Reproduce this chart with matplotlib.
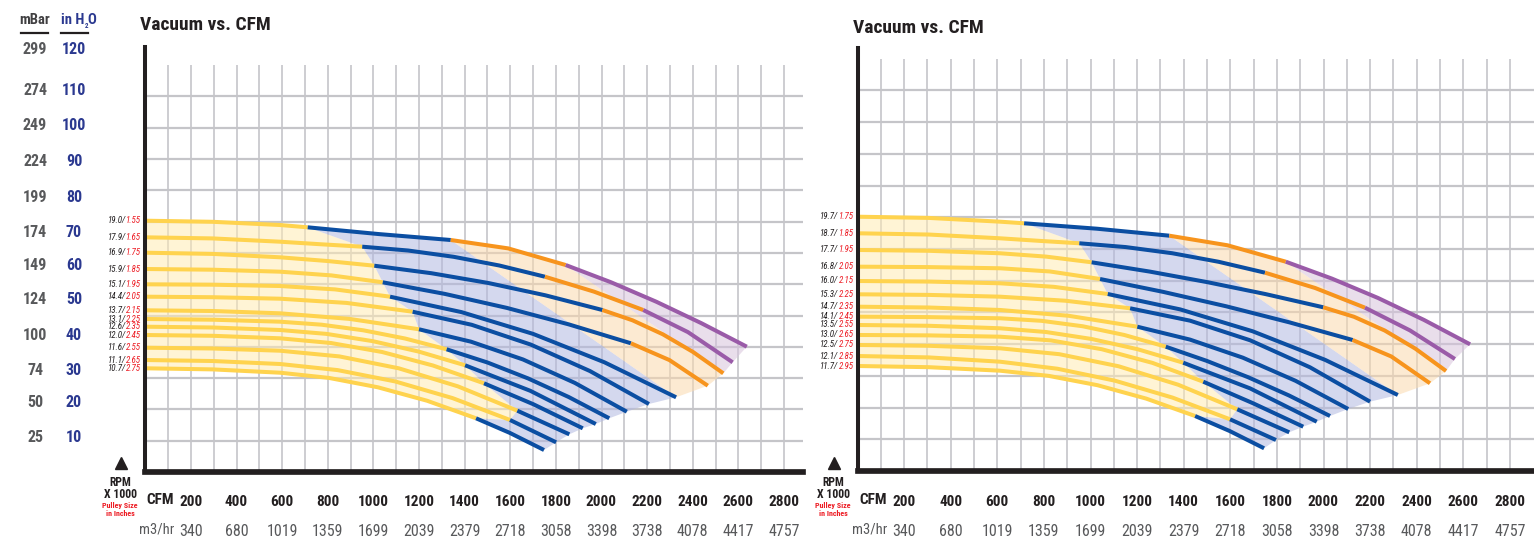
import numpy as np
import matplotlib.pyplot as plt
from matplotlib import font_manager
from matplotlib.lines import Line2D
from matplotlib.transforms import blended_transform_factory

# pick a condensed face if one is installed
_fonts = {(f.name, str(f.stretch)) for f in font_manager.fontManager.ttflist}
_names = {n for n, s in _fonts}
if 'Roboto Condensed' in _names:
    plt.rcParams['font.family'] = ['Roboto Condensed', 'DejaVu Sans']
elif 'Liberation Sans Narrow' in _names:
    plt.rcParams['font.family'] = ['Liberation Sans Narrow', 'DejaVu Sans']
elif ('DejaVu Sans', 'condensed') in _fonts or ('DejaVu Sans', '300') in _fonts:
    plt.rcParams['font.family'] = ['DejaVu Sans']
    plt.rcParams['font.stretch'] = 'condensed'
else:
    plt.rcParams['font.family'] = ['Roboto', 'DejaVu Sans']

W, H = 1534, 539

# pressure scale printed at the far left
mbar_labels = [299, 274, 249, 224, 199, 174, 149, 124, 100, 74, 50, 25]
inh2o_labels = [120, 110, 100, 90, 80, 70, 60, 50, 40, 30, 20, 10]

cfm_ticks = [200, 400, 600, 800, 1000, 1200, 1400, 1600, 1800, 2000, 2200, 2400, 2600, 2800]
m3hr_labels = [340, 680, 1019, 1359, 1699, 2039, 2379, 2718, 3058, 3398, 3738, 4078, 4417, 4757]

# ---- left chart: rpm x1000 / pulley size, curves as CFM vs in H2O
left_rpm = ['19.0', '17.9', '16.9', '15.9', '15.1', '14.4', '13.7', '13.1', '12.6', '12.0', '11.6', '11.1', '10.7']
left_pulley = ['1.55', '1.65', '1.75', '1.85', '1.95', '2.05', '2.15', '2.25', '2.35', '2.45', '2.55', '2.65', '2.75']
left_cfm = [
    [0, 295, 591, 712, 1025, 1339, 1591, 1843, 2042, 2240, 2438, 2637],
    [0, 295, 591, 771, 951, 1152, 1352, 1552, 1752, 1968, 2183, 2379, 2575],
    [0, 295, 591, 798, 1004, 1254, 1504, 1754, 2004, 2136, 2269, 2401, 2534],
    [0, 295, 591, 816, 1041, 1313, 1585, 1857, 2129, 2298, 2466],
    [0, 295, 591, 832, 1073, 1386, 1700, 2013, 2327],
    [0, 295, 591, 882, 1172, 1431, 1690, 1949, 2208],
    [0, 295, 591, 895, 1200, 1428, 1656, 1883, 2111],
    [0, 295, 591, 773, 956, 1139, 1321, 1500, 1678, 1856, 2034],
    [0, 295, 591, 794, 996, 1199, 1402, 1688, 1975],
    [0, 295, 591, 814, 1038, 1261, 1485, 1701, 1918],
    [0, 295, 591, 851, 1111, 1371, 1631, 1859],
    [0, 295, 591, 843, 1095, 1347, 1599, 1801],
    [0, 295, 591, 805, 1020, 1235, 1450, 1599, 1748],
]
left_vac = [
    [71.07, 70.76, 69.85, 69.20, 67.28, 65.61, 63.24, 58.54, 53.65, 48.16, 42.08, 35.44],
    [66.37, 66.06, 65.13, 64.40, 63.72, 62.64, 60.86, 58.40, 55.23, 50.99, 45.81, 39.56, 31.02],
    [62.02, 61.68, 60.72, 59.67, 58.34, 56.22, 53.45, 49.97, 45.81, 42.90, 38.94, 33.96, 27.91],
    [57.41, 57.21, 56.65, 55.60, 53.65, 50.37, 46.41, 41.74, 36.40, 31.65, 24.41],
    [53.08, 52.97, 52.60, 51.64, 49.58, 45.22, 39.06, 31.02, 21.13],
    [49.58, 49.43, 49.01, 47.82, 45.33, 41.63, 36.03, 28.56, 19.23],
    [45.73, 45.53, 44.88, 43.30, 40.36, 36.85, 31.82, 25.20, 17.05],
    [43.27, 43.07, 42.51, 41.66, 40.07, 37.75, 34.70, 30.97, 26.47, 21.21, 15.19],
    [41.09, 40.87, 40.16, 39.06, 37.02, 34.05, 30.18, 22.96, 13.57],
    [38.74, 38.52, 37.81, 36.48, 33.94, 30.12, 25.08, 19.17, 12.36],
    [35.15, 34.93, 34.30, 32.69, 29.33, 24.21, 17.34, 10.66],
    [31.67, 31.39, 30.54, 28.82, 25.62, 20.90, 14.71, 8.40],
    [29.33, 29.02, 28.08, 26.61, 23.95, 20.16, 15.19, 11.03, 6.22],
]
# CFM where the colour changes (yellow -> blue -> orange -> purple)
left_breaks = [[712, 1339, 1843], [951, 1752, 2183], [1004, 2004], [1041, 2129],
               [1073], [1172], [1200], [1321], [1402], [1485], [1631], [1599], [1450]]

# ---- right chart
right_rpm = ['19.7', '18.7', '17.7', '16.8', '16.0', '15.3', '14.7', '14.1', '13.5', '13.0', '12.5', '12.1', '11.7']
right_pulley = ['1.75', '1.85', '1.95', '2.05', '2.15', '2.25', '2.35', '2.45', '2.55', '2.65', '2.75', '2.85', '2.95']
right_cfm = [
    [0, 306, 612, 715, 1027, 1338, 1588, 1838, 2036, 2234, 2431, 2629],
    [0, 306, 612, 782, 952, 1151, 1351, 1550, 1749, 1964, 2178, 2371, 2564],
    [0, 306, 612, 809, 1005, 1254, 1502, 1751, 1999, 2131, 2263, 2394, 2526],
    [0, 306, 612, 826, 1041, 1312, 1583, 1854, 2125, 2291, 2457],
    [0, 306, 612, 843, 1074, 1385, 1696, 2007, 2319],
    [0, 306, 612, 891, 1170, 1427, 1685, 1942, 2200],
    [0, 306, 612, 906, 1201, 1427, 1654, 1880, 2106],
    [0, 306, 612, 789, 967, 1145, 1323, 1499, 1676, 1852, 2028],
    [0, 306, 612, 808, 1005, 1202, 1398, 1685, 1971],
    [0, 306, 612, 830, 1048, 1266, 1484, 1699, 1913],
    [0, 306, 612, 866, 1121, 1376, 1630, 1853],
    [0, 306, 612, 858, 1105, 1352, 1599, 1796],
    [0, 306, 612, 821, 1030, 1239, 1449, 1597, 1745],
]
right_vac = [
    [70.99, 70.65, 69.60, 69.15, 67.64, 65.69, 63.01, 58.43, 53.71, 48.30, 42.18, 35.37],
    [66.36, 66.01, 64.96, 64.24, 63.57, 62.51, 60.79, 58.40, 55.36, 51.09, 45.59, 39.25, 31.27],
    [61.70, 61.47, 60.78, 59.85, 58.26, 55.67, 52.71, 49.39, 45.70, 43.05, 39.21, 34.17, 27.92],
    [57.04, 56.92, 56.59, 55.70, 53.60, 50.00, 45.97, 41.49, 36.57, 31.97, 24.48],
    [53.04, 52.88, 52.40, 51.41, 49.41, 45.11, 39.00, 31.02, 21.22],
    [49.33, 49.16, 48.66, 47.54, 45.42, 41.97, 36.49, 28.95, 19.35],
    [45.87, 45.64, 44.95, 43.33, 40.28, 36.68, 31.63, 25.18, 17.31],
    [43.08, 42.96, 42.63, 41.93, 40.40, 37.97, 34.70, 30.74, 26.19, 21.08, 15.35],
    [40.76, 40.54, 39.84, 38.81, 36.85, 34.00, 30.23, 23.06, 13.76],
    [37.97, 37.86, 37.49, 36.46, 34.00, 30.18, 24.93, 18.87, 12.37],
    [35.18, 34.95, 34.25, 32.61, 29.23, 24.09, 17.22, 10.80],
    [32.10, 31.71, 30.51, 28.55, 25.21, 20.49, 14.43, 8.65],
    [29.31, 28.98, 28.00, 26.55, 23.95, 20.21, 15.35, 11.17, 6.34],
]
right_breaks = [[715, 1338, 1838], [952, 1749, 2178], [1005, 1999], [1041, 2125],
                [1074], [1170], [1201], [1323], [1398], [1484], [1630], [1599], [1449]]

INK = '#231f20'
RED = '#ed1c24'
NAVY = '#2b3990'
GRAY = '#58595b'
GRID = '#c5c5c9'
seg_colors = ['#ffd34e', '#0b4ea2', '#f7941d', '#9a5ba8']
fill_colors = ['#ffebb4', '#b1b8e0', '#fbd9ad', '#d7c3dc']
GRID_STEP = 8.852   # horizontal grid spacing in in H2O


def fx(x):
    return x / W


def fy(y):
    return 1 - y / H


def part(c, v, lo, hi):
    return [(a, b) for a, b in zip(c, v) if lo <= a <= hi]


def draw_panel(fig, box, px_per_cfm, px_per_grid, rpm, pulley, cfm, vac, breaks,
               title_x, title_y, rpm_x, cfm_lab_x):
    x0, x1, ytop, ybot = box
    ax = fig.add_axes([fx(x0), fy(ybot), (x1 - x0) / W, (ybot - ytop) / H])
    xmax = (x1 - x0) / px_per_cfm
    ymax = (ybot - ytop) / (px_per_grid / GRID_STEP)
    ax.set_xlim(0, xmax)
    ax.set_ylim(0, ymax)
    ax.set_xticks([])
    ax.set_yticks([])
    for s in ['top', 'right']:
        ax.spines[s].set_visible(False)
    ax.spines['left'].set_linewidth(2.9)
    ax.spines['bottom'].set_linewidth(4.1)
    for s in ['left', 'bottom']:
        ax.spines[s].set_color(INK)
        ax.spines[s].set_zorder(6)

    # grid
    ax.vlines(np.arange(100, 2801, 100), 0, 13 * GRID_STEP, color=GRID, lw=1.2, zorder=1)
    ax.hlines(np.arange(1, 13) * GRID_STEP, 0, xmax, color=GRID, lw=1.6, zorder=1)

    n = len(cfm)
    ends = [(c[-1], v[-1]) for c, v in zip(cfm, vac)]
    yb = [(b[0], v[c.index(b[0])]) for c, v, b in zip(cfm, vac, breaks)]
    bo, op = breaks[0][1], breaks[0][2]
    fb = min(i for i in range(n) if len(breaks[i]) == 1)
    fo = min(i for i in range(n) if len(breaks[i]) == 2)

    polys = [
        part(cfm[0], vac[0], 0, breaks[0][0]) + yb[1:] + part(cfm[-1], vac[-1], 0, breaks[-1][0])[::-1],
        yb + part(cfm[-1], vac[-1], breaks[-1][0], 1e9)[1:] + ends[fb:n - 1][::-1]
        + part(cfm[0], vac[0], breaks[0][0], bo)[::-1],
        part(cfm[0], vac[0], bo, op) + ends[fo:fb + 1],
        part(cfm[0], vac[0], op, 1e9) + ends[1:fo + 1],
    ]
    for poly, col in zip(polys, fill_colors):
        px, py = zip(*poly)
        ax.fill(px, py, color=col, alpha=0.55, lw=0, zorder=2)

    for c, v, b in zip(cfm, vac, breaks):
        c = np.array(c)
        v = np.array(v)
        cuts = [0] + [int(np.where(c == bb)[0][0]) for bb in b] + [len(c) - 1]
        for k in range(len(cuts) - 1):
            ax.plot(c[cuts[k]:cuts[k + 1] + 1], v[cuts[k]:cuts[k + 1] + 1], color=seg_colors[k],
                    lw=2.9, solid_capstyle='butt', solid_joinstyle='round', zorder=4)

    # curve labels  rpm/pulley
    for r, p, v in zip(rpm, pulley, vac):
        red = ax.annotate(p, xy=(0, v[0]), xytext=(-4, 0), textcoords='offset pixels', ha='right',
                          va='center', color=RED, fontsize=6.5, style='italic', annotation_clip=False)
        ax.annotate(r + '/', xy=(0, 0.5), xycoords=red, ha='right', va='center', color=INK,
                    fontsize=6.5, style='italic', annotation_clip=False)

    # x labels
    tr = blended_transform_factory(ax.transData, fig.transFigure)
    for c, m in zip(cfm_ticks, m3hr_labels):
        ax.text(c, fy(501.5), str(c), transform=tr, ha='center', va='center', fontsize=11,
                fontweight='bold', color=INK)
        ax.text(c, fy(531), str(m), transform=tr, ha='center', va='center', fontsize=11.5, color=GRAY)
    fig.text(fx(cfm_lab_x), fy(500), 'CFM', ha='center', va='center', fontsize=11,
             fontweight='bold', color=INK)
    fig.text(fx(cfm_lab_x - 3), fy(530), 'm3/hr', ha='center', va='center', fontsize=10.5, color=GRAY)

    # rpm key
    fig.add_artist(Line2D([fx(rpm_x + 1)], [fy(463)], marker='^', ms=9, color=INK, lw=0))
    fig.text(fx(rpm_x), fy(482), 'RPM', ha='center', va='center', fontsize=8.5, fontweight='bold', color=INK)
    fig.text(fx(rpm_x), fy(494), 'X 1000', ha='center', va='center', fontsize=8.5, fontweight='bold', color=INK)
    fig.text(fx(rpm_x), fy(505.5), 'Pulley Size', ha='center', va='center', fontsize=5.8,
             fontweight='bold', color=RED)
    fig.text(fx(rpm_x), fy(514), 'in Inches', ha='center', va='center', fontsize=5.8,
             fontweight='bold', color=RED)

    fig.text(fx(title_x), fy(title_y), 'Vacuum vs. CFM', ha='left', va='center', fontsize=14,
             fontweight='bold', color=INK)
    return ax


fig = plt.figure(figsize=(W / 100, H / 100), dpi=100)

draw_panel(fig, (145.3, 803, 47, 472), 0.2281, 31.3, left_rpm, left_pulley, left_cfm, left_vac,
           left_breaks, 140, 25.5, 120, 160)
draw_panel(fig, (857.5, 1534, 47.7, 471), 0.233, 31.71, right_rpm, right_pulley, right_cfm, right_vac,
           right_breaks, 853, 28, 833, 873)

# pressure columns on the far left
row_y = [50, 90.7, 126, 161.7, 197.3, 232.3, 265.7, 299, 336, 370.7, 402.3, 437.3]
for yy, mb, wc in zip(row_y, mbar_labels, inh2o_labels):
    fig.text(fx(35), fy(yy), str(mb), ha='center', va='center', fontsize=11.5, fontweight='bold', color=GRAY)
    fig.text(fx(74), fy(yy), str(wc), ha='center', va='center', fontsize=11.5, fontweight='bold', color=NAVY)

fig.text(fx(35), fy(20), 'mBar', ha='center', va='center', fontsize=10.5, fontweight='bold', color='#414042')
h1 = fig.text(fx(61), fy(20), 'in H', ha='left', va='center', fontsize=10.5, fontweight='bold', color=NAVY)
sub = plt.annotate('2', xy=(1.0, 0.05), xycoords=h1, ha='left', va='center', fontsize=5,
                   fontweight='bold', color=NAVY, annotation_clip=False)
plt.annotate('O', xy=(1.0, 0.5), xycoords=(sub, h1), ha='left', va='center', fontsize=10.5,
             fontweight='bold', color=NAVY, annotation_clip=False)
fig.add_artist(Line2D([fx(21), fx(48)], [fy(33), fy(33)], color=INK, lw=1.6))
fig.add_artist(Line2D([fx(61), fx(88)], [fy(33), fy(33)], color=INK, lw=1.6))

fig.savefig('out.png', dpi=100)
